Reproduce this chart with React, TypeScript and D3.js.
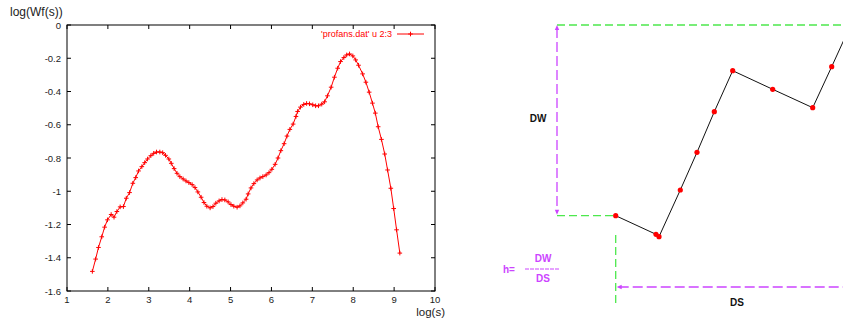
import React, { useEffect, useRef } from "react";
import * as d3 from "d3";

// curve: log(s) vs log(Wf(s))
const logS = [
  1.62, 1.7, 1.77, 1.85, 1.92, 1.99, 2.08, 2.15, 2.22, 2.3, 2.38, 2.45, 2.53, 2.61, 2.68,
  2.75, 2.83, 2.9, 2.97, 3.05, 3.12, 3.19, 3.27, 3.34, 3.41, 3.49, 3.55, 3.62, 3.69, 3.76,
  3.84, 3.91, 3.98, 4.06, 4.13, 4.2, 4.28, 4.35, 4.42, 4.5, 4.57, 4.64, 4.72, 4.79, 4.86,
  4.94, 5.01, 5.08, 5.16, 5.23, 5.3, 5.38, 5.43, 5.5, 5.57, 5.65, 5.72, 5.79, 5.87, 5.94,
  6.01, 6.09, 6.16, 6.23, 6.31, 6.38, 6.45, 6.53, 6.6, 6.64, 6.71, 6.79, 6.86, 6.93, 7.01,
  7.08, 7.15, 7.23, 7.3, 7.37, 7.46, 7.54, 7.62, 7.69, 7.77, 7.84, 7.91, 7.99, 8.06, 8.13,
  8.23, 8.31, 8.39, 8.47, 8.54, 8.61, 8.69, 8.77, 8.84, 8.92, 8.99, 9.06, 9.14,
];
const logW = [
  -1.482, -1.408, -1.338, -1.274, -1.216, -1.172, -1.14, -1.156, -1.122, -1.094, -1.092,
  -1.042, -1.008, -0.952, -0.918, -0.878, -0.852, -0.828, -0.806, -0.786, -0.772, -0.764,
  -0.764, -0.768, -0.784, -0.806, -0.832, -0.864, -0.892, -0.912, -0.926, -0.938, -0.948,
  -0.96, -0.978, -1.004, -1.036, -1.068, -1.09, -1.1, -1.092, -1.072, -1.058, -1.05, -1.052,
  -1.064, -1.08, -1.09, -1.096, -1.088, -1.07, -1.048, -1.016, -0.98, -0.954, -0.932, -0.92,
  -0.912, -0.902, -0.888, -0.868, -0.838, -0.8, -0.756, -0.714, -0.668, -0.628, -0.596,
  -0.55, -0.52, -0.494, -0.478, -0.472, -0.474, -0.48, -0.486, -0.486, -0.476, -0.462,
  -0.426, -0.374, -0.314, -0.26, -0.22, -0.196, -0.18, -0.174, -0.186, -0.21, -0.242,
  -0.294, -0.344, -0.404, -0.47, -0.53, -0.612, -0.688, -0.776, -0.872, -0.982, -1.104,
  -1.232, -1.372,
];
const xTicks = [1, 2, 3, 4, 5, 6, 7, 8, 9, 10];
const yTicks = [0, -0.2, -0.4, -0.6, -0.8, -1, -1.2, -1.4, -1.6];
const legendLabel = "'profans.dat' u 2:3";

// schematic on the right: DS along the bottom, DW up the side
const diagS = [0, 40.3, 43.3, 64.6, 81.3, 98.6, 117, 157, 197, 216, 235];
const diagW = [0, -18.6, -21, 25.7, 63.4, 104, 145, 126.4, 108, 149, 190.7];

const FONT = "'Liberation Sans', Arial, Helvetica, sans-serif";
const GREEN = "#4de84d";
const PURPLE = "#cc44ff";

export default function App() {
  const ref = useRef<SVGSVGElement>(null);
  const width = 843;
  const height = 320;

  useEffect(() => {
    const svg = d3.select(ref.current);
    svg.selectAll("*").remove();

    const m = { left: 67, right: 435, top: 25, bottom: 291 };
    const x = d3.scaleLinear().domain([1, 10]).range([m.left, m.right]);
    const y = d3.scaleLinear().domain([-1.6, 0]).range([m.bottom, m.top]);

    const plot = svg.append("g");

    // ticks on all four sides, pointing inwards
    const tl = 4;
    xTicks.forEach((t) => {
      plot.append("line").attr("x1", x(t)).attr("x2", x(t)).attr("y1", m.bottom).attr("y2", m.bottom - tl).attr("stroke", "#000");
      plot.append("line").attr("x1", x(t)).attr("x2", x(t)).attr("y1", m.top).attr("y2", m.top + tl).attr("stroke", "#000");
      plot.append("text").attr("x", x(t)).attr("y", 303).attr("text-anchor", "middle")
        .style("font-size", "9.5px").style("font-family", FONT).attr("fill", "#222").text(t);
    });
    yTicks.forEach((t) => {
      plot.append("line").attr("x1", m.left).attr("x2", m.left + tl).attr("y1", y(t)).attr("y2", y(t)).attr("stroke", "#000");
      plot.append("line").attr("x1", m.right).attr("x2", m.right - tl).attr("y1", y(t)).attr("y2", y(t)).attr("stroke", "#000");
      plot.append("text").attr("x", 61).attr("y", y(t) + 3.5).attr("text-anchor", "end")
        .style("font-size", "9.5px").style("font-family", FONT).attr("fill", "#222")
        .text(String(+t.toFixed(1)));
    });

    plot.append("rect").attr("x", m.left).attr("y", m.top).attr("width", m.right - m.left)
      .attr("height", m.bottom - m.top).attr("fill", "none").attr("stroke", "#000").attr("stroke-width", 1);

    plot.append("text").attr("x", 10).attr("y", 16).style("font-size", "12px").style("font-family", FONT)
      .attr("fill", "#222").text("log(Wf(s))");
    plot.append("text").attr("x", 445).attr("y", 316).attr("text-anchor", "end").style("font-size", "11.5px")
      .style("font-family", FONT).attr("fill", "#222").text("log(s)");

    const pts: [number, number][] = logS.map((s, i) => [s, logW[i]]);
    const line = d3.line<[number, number]>().x((d) => x(d[0])).y((d) => y(d[1]));
    plot.append("path").attr("d", line(pts)).attr("fill", "none").attr("stroke", "red").attr("stroke-width", 1);

    const plus = (g: any, cx: number, cy: number) => {
      g.append("path").attr("d", `M${cx - 2.3},${cy}H${cx + 2.3}M${cx},${cy - 2.3}V${cy + 2.3}`)
        .attr("stroke", "red").attr("stroke-width", 1);
    };
    pts.forEach((d) => plus(plot, x(d[0]), y(d[1])));

    // legend
    plot.append("text").attr("x", 392).attr("y", 37).attr("text-anchor", "end").style("font-size", "9px")
      .style("font-family", FONT).attr("fill", "red").text(legendLabel);
    plot.append("line").attr("x1", 397).attr("x2", 424).attr("y1", 34).attr("y2", 34).attr("stroke", "red");
    plus(plot, 410.5, 34);

    // schematic
    const sx = d3.scaleLinear().domain([0, 100]).range([615.7, 715.7]);
    const sy = d3.scaleLinear().domain([0, 100]).range([215.7, 115.7]);
    const dg = svg.append("g");
    const dash = "8,4";

    dg.append("line").attr("x1", 557).attr("x2", 843).attr("y1", sy(190.7)).attr("y2", sy(190.7))
      .attr("stroke", GREEN).attr("stroke-width", 1.3).attr("stroke-dasharray", dash);
    dg.append("line").attr("x1", 557).attr("x2", sx(0)).attr("y1", sy(0)).attr("y2", sy(0))
      .attr("stroke", GREEN).attr("stroke-width", 1.3).attr("stroke-dasharray", dash);
    dg.append("line").attr("x1", sx(0)).attr("x2", sx(0)).attr("y1", 235).attr("y2", 305)
      .attr("stroke", GREEN).attr("stroke-width", 1.3).attr("stroke-dasharray", dash);

    dg.append("line").attr("x1", 557).attr("x2", 557).attr("y1", sy(190.7) + 3).attr("y2", sy(0) - 3)
      .attr("stroke", PURPLE).attr("stroke-width", 1.3).attr("stroke-dasharray", "10,4");
    dg.append("line").attr("x1", sx(0) + 3).attr("x2", 843).attr("y1", 287).attr("y2", 287)
      .attr("stroke", PURPLE).attr("stroke-width", 1.3).attr("stroke-dasharray", "10,4");
    const ay1 = sy(190.7);
    const ay2 = sy(0);
    dg.append("path").attr("d", `M557,${ay1}L554.8,${ay1 + 5}L559.2,${ay1 + 5}Z`).attr("fill", PURPLE);
    dg.append("path").attr("d", `M557,${ay2 - 1}L554.8,${ay2 - 6}L559.2,${ay2 - 6}Z`).attr("fill", PURPLE);
    dg.append("path").attr("d", `M${sx(0) + 1},287L${sx(0) + 6},284.8L${sx(0) + 6},289.2Z`).attr("fill", PURPLE);

    const dpts: [number, number][] = diagS.map((s, i) => [s, diagW[i]]);
    const dline = d3.line<[number, number]>().x((d) => sx(d[0])).y((d) => sy(d[1]));
    dg.append("path").attr("d", dline(dpts)).attr("fill", "none").attr("stroke", "#111").attr("stroke-width", 1);
    dg.selectAll("circle").data(dpts.slice(0, -1)).join("circle")
      .attr("cx", (d) => sx(d[0])).attr("cy", (d) => sy(d[1])).attr("r", 2.6).attr("fill", "red");

    dg.append("text").attr("x", 538).attr("y", 122).attr("text-anchor", "middle").style("font-size", "10px")
      .style("font-weight", "bold").style("font-family", FONT).attr("fill", "#111").text("DW");
    dg.append("text").attr("x", 737).attr("y", 306).attr("text-anchor", "middle").style("font-size", "10px")
      .style("font-weight", "bold").style("font-family", FONT).attr("fill", "#111").text("DS");

    dg.append("text").attr("x", 509).attr("y", 273).attr("text-anchor", "middle").style("font-size", "10px")
      .style("font-weight", "bold").style("font-family", FONT).attr("fill", PURPLE).text("h=");
    dg.append("text").attr("x", 543).attr("y", 262).attr("text-anchor", "middle").style("font-size", "10px")
      .style("font-weight", "bold").style("font-family", FONT).attr("fill", PURPLE).text("DW");
    dg.append("text").attr("x", 543).attr("y", 282).attr("text-anchor", "middle").style("font-size", "10px")
      .style("font-weight", "bold").style("font-family", FONT).attr("fill", PURPLE).text("DS");
    dg.append("line").attr("x1", 525).attr("x2", 559).attr("y1", 269).attr("y2", 269)
      .attr("stroke", PURPLE).attr("stroke-width", 1).attr("stroke-dasharray", "4,1");
  }, []);

  return (
    <svg
      ref={ref}
      width={width}
      height={height}
      style={{ position: "absolute", left: 0, top: 0, background: "#fff" }}
    />
  );
}
